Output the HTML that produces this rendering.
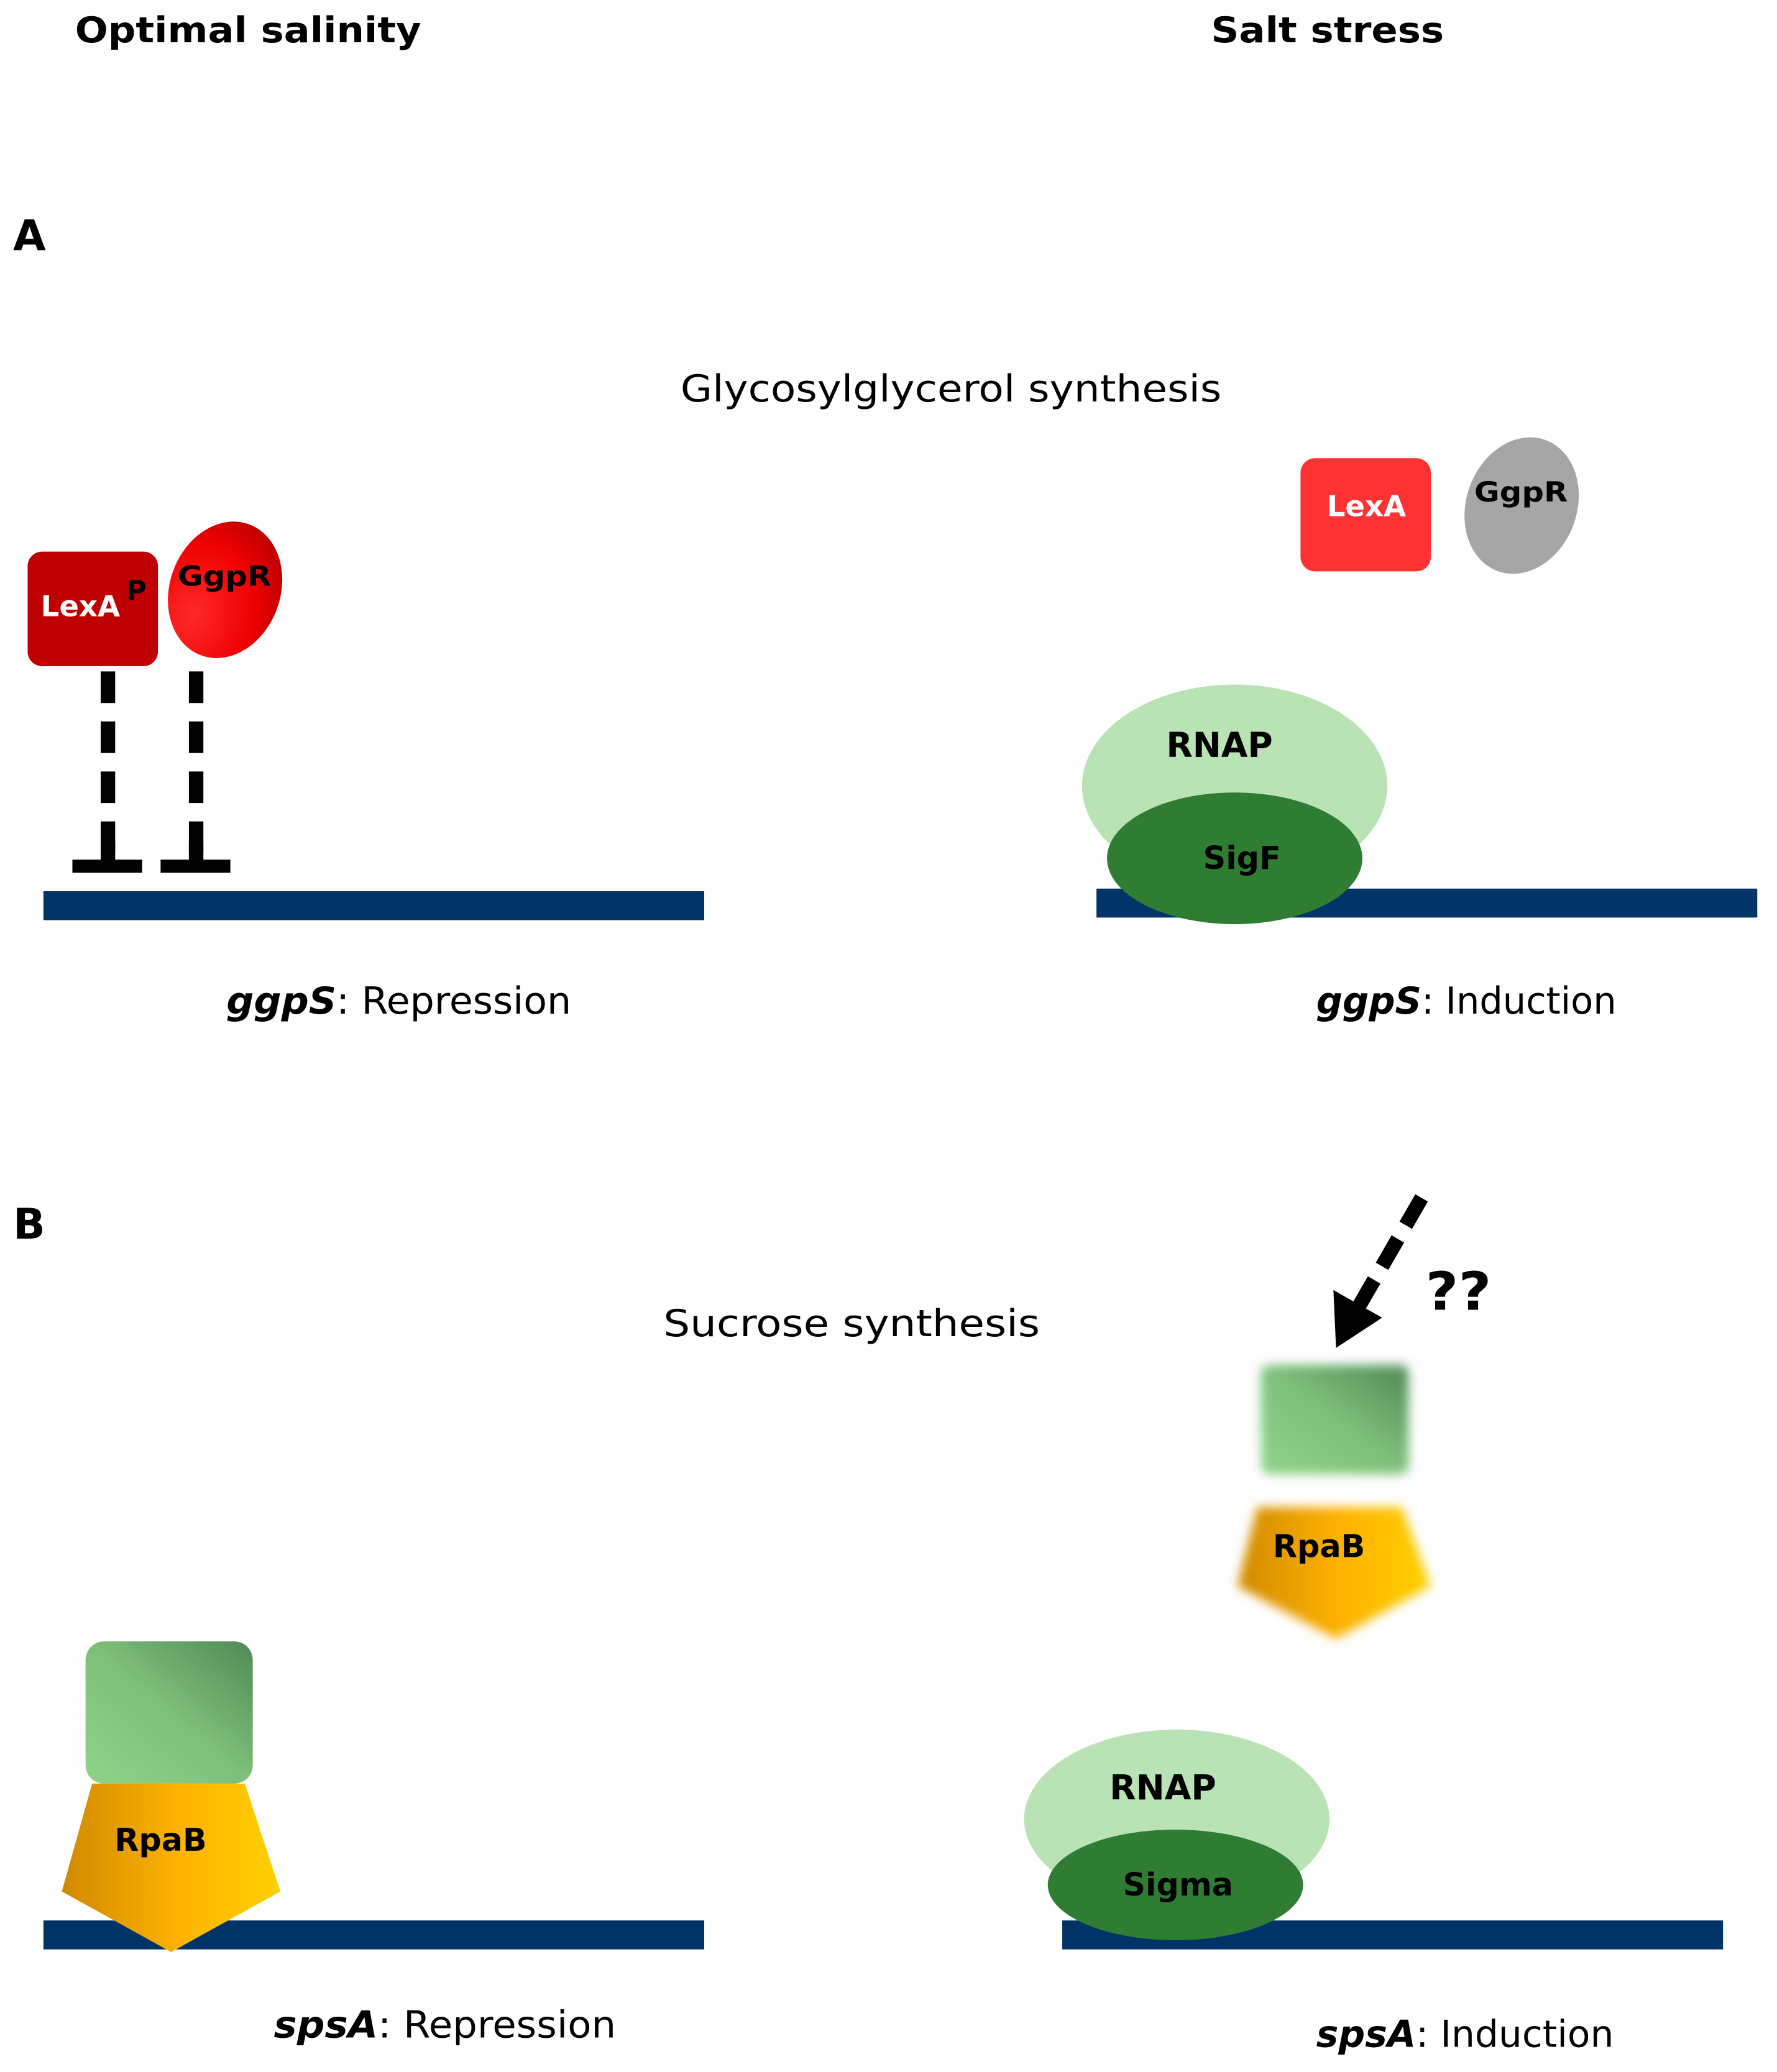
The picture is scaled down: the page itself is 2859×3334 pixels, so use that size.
<!DOCTYPE html>
<html><head><meta charset="utf-8"><style>
html,body{margin:0;padding:0;background:#fff;}
svg{display:block;}
text{font-family:"DejaVu Sans","Liberation Sans",sans-serif;}
</style></head><body>
<svg width="2859" height="3334" viewBox="0 0 1350 1574" xmlns="http://www.w3.org/2000/svg">
<defs>
<radialGradient id="ggpr" cx="0.3" cy="0.75" r="0.9"><stop offset="0" stop-color="#ff2a2a"/><stop offset="0.6" stop-color="#ee0000"/><stop offset="1" stop-color="#b00000"/></radialGradient>
<linearGradient id="gsq" x1="0" y1="1" x2="1" y2="0"><stop offset="0" stop-color="#8fd38a"/><stop offset="0.5" stop-color="#7ec07a"/><stop offset="1" stop-color="#4f8a54"/></linearGradient>
<linearGradient id="org" x1="0" y1="0" x2="1" y2="0"><stop offset="0" stop-color="#d08a00"/><stop offset="0.55" stop-color="#ffb300"/><stop offset="1" stop-color="#ffd000"/></linearGradient>
<filter id="blur" x="-20%" y="-20%" width="140%" height="140%"><feGaussianBlur stdDeviation="4"/></filter>
</defs>
<g font-weight="bold" fill="#000">
<text x="57" y="32" font-size="27" textLength="263" lengthAdjust="spacingAndGlyphs">Optimal salinity</text>
<text x="920" y="32" font-size="27" textLength="177" lengthAdjust="spacingAndGlyphs">Salt stress</text>
<text x="10" y="190" font-size="32">A</text>
<text x="10" y="941" font-size="32">B</text>
</g>
<text x="517" y="305" font-size="28" textLength="411" lengthAdjust="spacingAndGlyphs">Glycosylglycerol synthesis</text>
<text x="504" y="1015" font-size="28" textLength="286" lengthAdjust="spacingAndGlyphs">Sucrose synthesis</text>

<!-- A left -->
<rect x="21" y="419" width="99" height="87" rx="11" fill="#c00000"/>
<text x="31" y="468" font-size="22" font-weight="bold" fill="#fff">LexA</text>
<text x="96" y="456" font-size="21" font-weight="bold" fill="#000">P</text>
<ellipse cx="171" cy="448" rx="42" ry="53" transform="rotate(20 171 448)" fill="url(#ggpr)"/>
<text x="135" y="445" font-size="21" font-weight="bold" textLength="71" lengthAdjust="spacingAndGlyphs">GgpR</text>
<line x1="82" y1="510" x2="82" y2="655" stroke="#000" stroke-width="11" stroke-dasharray="24,14"/>
<line x1="149" y1="510" x2="149" y2="655" stroke="#000" stroke-width="11" stroke-dasharray="24,14"/>
<line x1="55" y1="658" x2="108" y2="658" stroke="#000" stroke-width="10"/>
<line x1="122" y1="658" x2="175" y2="658" stroke="#000" stroke-width="10"/>
<line x1="82" y1="640" x2="82" y2="660" stroke="#000" stroke-width="11"/>
<line x1="149" y1="640" x2="149" y2="660" stroke="#000" stroke-width="11"/>
<rect x="33" y="677" width="502" height="22" fill="#003366"/>
<text x="172" y="770" font-size="28" textLength="262" lengthAdjust="spacingAndGlyphs"><tspan font-weight="bold" font-style="italic">ggpS</tspan>: Repression</text>

<!-- A right -->
<rect x="988" y="348" width="99" height="86" rx="11" fill="#ff3333"/>
<text x="1008" y="392" font-size="22" font-weight="bold" fill="#fff">LexA</text>
<ellipse cx="1156" cy="384" rx="42" ry="53" transform="rotate(20 1156 384)" fill="#a6a6a6"/>
<text x="1120" y="381" font-size="21" font-weight="bold" textLength="71" lengthAdjust="spacingAndGlyphs">GgpR</text>
<rect x="833" y="675" width="502" height="22" fill="#003366"/>
<ellipse cx="938" cy="597" rx="116" ry="77" fill="#b9e2b5"/>
<ellipse cx="938" cy="652" rx="97" ry="50" fill="#2e7d32"/>
<text x="886" y="575" font-size="26" font-weight="bold">RNAP</text>
<text x="914" y="660" font-size="24" font-weight="bold">SigF</text>
<text x="1000" y="770" font-size="28" textLength="228" lengthAdjust="spacingAndGlyphs"><tspan font-weight="bold" font-style="italic">ggpS</tspan>: Induction</text>

<!-- B left -->
<rect x="33" y="1459" width="502" height="22" fill="#003366"/>
<polygon points="70,1355 186,1355 213,1437 130,1483 47,1437" fill="url(#org)"/>
<rect x="65" y="1247" width="127" height="108" rx="14" fill="url(#gsq)"/>
<text x="87" y="1406" font-size="24" font-weight="bold">RpaB</text>
<text x="208" y="1548" font-size="28" textLength="260" lengthAdjust="spacingAndGlyphs"><tspan font-weight="bold" font-style="italic">spsA</tspan>: Repression</text>

<!-- B right -->
<line x1="1080" y1="910" x2="1032" y2="993" stroke="#000" stroke-width="11" stroke-dasharray="24,12"/>
<polygon points="1015,1024 1013,980 1050,1001" fill="#000"/>
<text x="1083" y="995" font-size="40" font-weight="bold" textLength="50" lengthAdjust="spacingAndGlyphs">??</text>
<g filter="url(#blur)">
<rect x="958" y="1037" width="112" height="83" rx="6" fill="url(#gsq)"/>
<polygon points="955,1145 1065,1145 1087,1205 1015,1245 940,1205" fill="url(#org)"/>
</g>
<text x="967" y="1183" font-size="24" font-weight="bold">RpaB</text>
<rect x="807" y="1459" width="502" height="22" fill="#003366"/>
<ellipse cx="894" cy="1382" rx="116" ry="68" fill="#b9e2b5"/>
<ellipse cx="893" cy="1432" rx="97" ry="42" fill="#2e7d32"/>
<text x="843" y="1367" font-size="26" font-weight="bold">RNAP</text>
<text x="853" y="1440" font-size="24" font-weight="bold">Sigma</text>
<text x="1000" y="1555" font-size="28" textLength="226" lengthAdjust="spacingAndGlyphs"><tspan font-weight="bold" font-style="italic">spsA</tspan>: Induction</text>
</svg>
</body></html>
